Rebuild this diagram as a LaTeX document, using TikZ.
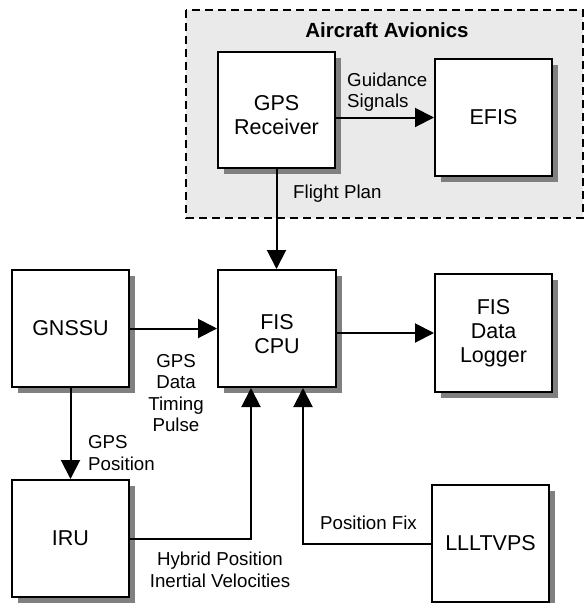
\documentclass[tikz,border=0pt]{standalone}
\usepackage{fontspec}
\setmainfont{Liberation Sans}
\usetikzlibrary{arrows.meta,shadows,calc}
\definecolor{avbg}{HTML}{EAEAEA}
\definecolor{shadowgray}{HTML}{808080}
\newcommand{\lowerfirst}{\rule{0pt}{25.5pt}}
\begin{document}
\begin{tikzpicture}[x=1pt,y=-1pt,
  blk/.style={draw=black, line width=2pt, fill=white, minimum width=117pt, minimum height=117pt,
    inner sep=0pt, align=center, font=\fontsize{21.5}{24}\selectfont,
    drop shadow={shadow xshift=6pt, shadow yshift=-6pt, fill=shadowgray, opacity=1}},
  lbl/.style={font=\fontsize{18.7}{21.5}\selectfont, inner sep=0pt},
  conn/.style={line width=2pt},
  arr/.style={line width=2pt, -{Triangle[length=19pt,width=19pt]}},
]
\useasboundingbox (0,0) rectangle (585,603);
\fill[white] (0,0) rectangle (585,603);
% avionics group
\draw[line width=2pt, dash pattern=on 8pt off 5pt, fill=avbg] (186,10) rectangle (583,218);
\node[lbl, font=\fontsize{20.5}{24}\selectfont\bfseries] (title) at (387,30) {Aircraft Avionics};

\node[blk, minimum height=116pt] (gps) at (276.5,110) {\lowerfirst GPS\\Receiver};
\node[blk] (efis) at (493.5,117.5) {EFIS};
\node[blk, minimum width=118pt] (cpu) at (277,328.5) {\lowerfirst FIS\\CPU};
\node[blk] (gnssu) at (70.5,328.5) {GNSSU};
\node[blk, minimum height=118pt] (logger) at (493.5,333) {FIS\\Data\\Logger};
\node[blk] (iru) at (70.5,538.5) {IRU};
\node[blk] (lll) at (490.5,543.5) {LLLTVPS};

% connectors
\draw[arr] (gps.east |- efis.west) -- (efis.west);
\draw[arr] (gps.south) -- (gps.south |- cpu.north);
\draw[arr] (gnssu.east) -- (cpu.west);
\draw[arr] (cpu.east |- logger.west) -- (logger.west);
\draw[arr] (gnssu.south) -- (iru.north);
\coordinate (cpuin1) at ([xshift=-26pt]cpu.south);
\coordinate (cpuin2) at ([xshift=26pt]cpu.south);
\draw[arr] (iru.east) -| (cpuin1);
\draw[arr] (lll.west) -| (cpuin2);

% labels
\node[lbl, align=left, anchor=west] (lguid) at (347,92) {Guidance\\Signals};
\node[lbl, anchor=west] (lflight) at (293,194) {Flight Plan};
\node[lbl, align=center] (lgpsdata) at (176,393) {GPS\\Data\\Timing\\Pulse};
\node[lbl, align=left, anchor=west] (lgpspos) at (88,453) {GPS\\Position};
\node[lbl, align=center] (lhybrid) at (220,570) {Hybrid Position\\Inertial Velocities};
\node[lbl, anchor=west] (lfix) at (320,523) {Position Fix};
\end{tikzpicture}
\end{document}
